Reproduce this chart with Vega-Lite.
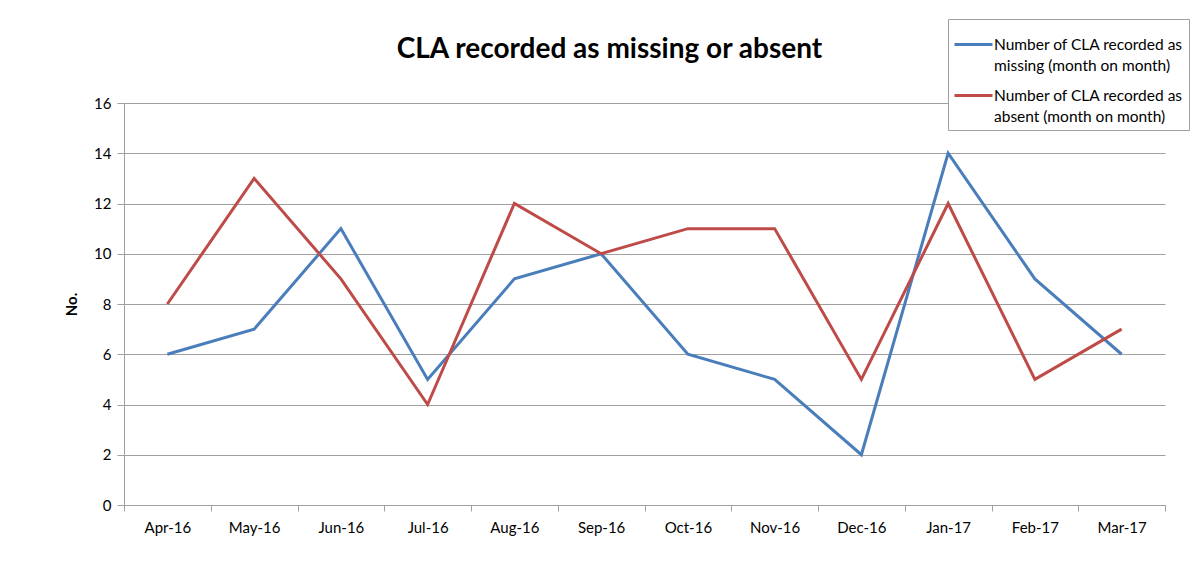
{
  "$schema": "https://vega.github.io/schema/vega-lite/v6.json",
  "width": 1041,
  "height": 402,
  "autosize": {"type": "none"},
  "padding": {"left": 124, "top": 103, "right": 29, "bottom": 67},
  "background": "white",
  "config": {
    "font": "Lato",
    "view": {"stroke": null},
    "axis": {"labelFont": "Lato", "titleFont": "Lato"},
    "style": {"guide-label": {"lineHeight": 21}}
  },
  "title": {
    "text": "CLA recorded as missing or absent",
    "font": "Lato",
    "fontSize": 28,
    "fontWeight": "bold",
    "color": "#000000",
    "anchor": "middle",
    "frame": "group",
    "dx": -35,
    "offset": -45
  },
  "data": {
    "values": [
      {"month": "Apr-16", "series": "missing", "value": 6},
      {"month": "May-16", "series": "missing", "value": 7},
      {"month": "Jun-16", "series": "missing", "value": 11},
      {"month": "Jul-16", "series": "missing", "value": 5},
      {"month": "Aug-16", "series": "missing", "value": 9},
      {"month": "Sep-16", "series": "missing", "value": 10},
      {"month": "Oct-16", "series": "missing", "value": 6},
      {"month": "Nov-16", "series": "missing", "value": 5},
      {"month": "Dec-16", "series": "missing", "value": 2},
      {"month": "Jan-17", "series": "missing", "value": 14},
      {"month": "Feb-17", "series": "missing", "value": 9},
      {"month": "Mar-17", "series": "missing", "value": 6},
      {"month": "Apr-16", "series": "absent", "value": 8},
      {"month": "May-16", "series": "absent", "value": 13},
      {"month": "Jun-16", "series": "absent", "value": 9},
      {"month": "Jul-16", "series": "absent", "value": 4},
      {"month": "Aug-16", "series": "absent", "value": 12},
      {"month": "Sep-16", "series": "absent", "value": 10},
      {"month": "Oct-16", "series": "absent", "value": 11},
      {"month": "Nov-16", "series": "absent", "value": 11},
      {"month": "Dec-16", "series": "absent", "value": 5},
      {"month": "Jan-17", "series": "absent", "value": 12},
      {"month": "Feb-17", "series": "absent", "value": 5},
      {"month": "Mar-17", "series": "absent", "value": 7}
    ]
  },
  "mark": {"type": "line", "strokeWidth": 3},
  "encoding": {
    "x": {
      "field": "month",
      "type": "ordinal",
      "sort": null,
      "scale": {"paddingInner": 0, "paddingOuter": 0},
      "axis": {
        "title": null,
        "labelAngle": 0,
        "labelFontSize": 15,
        "labelColor": "#000000",
        "labelPadding": 9,
        "domainColor": "#a0a0a0",
        "tickColor": "#a0a0a0",
        "tickBand": "extent",
        "tickSize": 6,
        "grid": false
      }
    },
    "y": {
      "field": "value",
      "type": "quantitative",
      "scale": {"domain": [0, 16], "nice": false},
      "axis": {
        "title": "No.",
        "titleFontSize": 15,
        "titleFontWeight": "bold",
        "titleColor": "#000000",
        "titlePadding": 14,
        "values": [0, 2, 4, 6, 8, 10, 12, 14, 16],
        "labelFontSize": 15,
        "labelColor": "#000000",
        "labelPadding": 6,
        "domainColor": "#a0a0a0",
        "tickColor": "#a0a0a0",
        "tickSize": 7,
        "gridColor": "#a0a0a0",
        "gridWidth": 1
      }
    },
    "color": {
      "field": "series",
      "type": "nominal",
      "sort": ["missing", "absent"],
      "scale": {"domain": ["missing", "absent"], "range": ["#4a7ebb", "#be4b48"]},
      "legend": {
        "title": null,
        "orient": "none",
        "legendX": 824,
        "legendY": -84,
        "direction": "vertical",
        "symbolType": "M-1,0H1",
        "symbolStrokeWidth": 3,
        "symbolSize": 1444,
        "labelFontSize": 15.5,
        "labelColor": "#000000",
        "labelLimit": 300,
        "labelExpr": "datum.label == 'missing' ? ['Number of CLA recorded as   ', 'missing (month on month)'] : ['Number of CLA recorded as   ', 'absent (month on month)']",
        "labelBaseline": "middle",
        "labelOffset": 0,
        "rowPadding": 1,
        "padding": 5,
        "strokeColor": "#a0a0a0",
        "fillColor": "white"
      }
    }
  }
}
